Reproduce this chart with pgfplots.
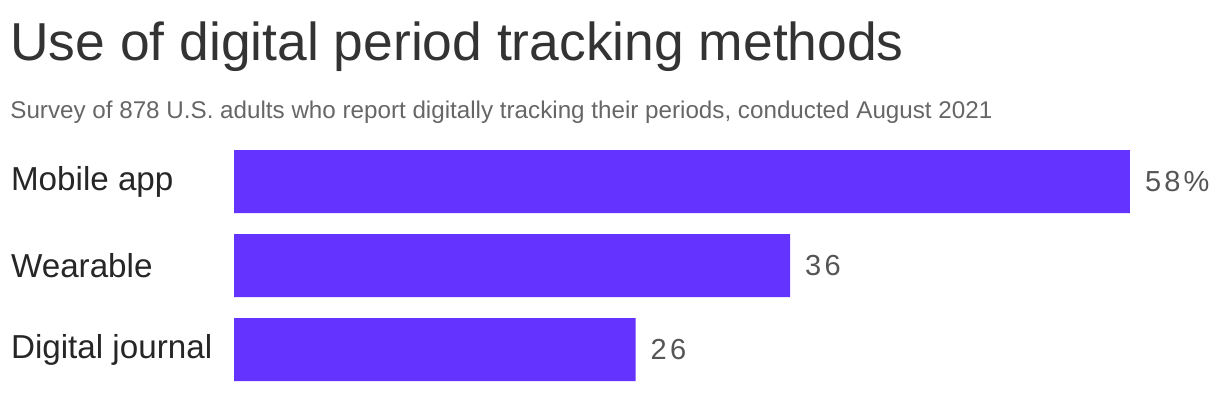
\documentclass[border=0pt]{standalone}
\usepackage{pgfplots}
\pgfplotsset{compat=1.18}
\usepackage{fontspec}
\setmainfont{Liberation Sans}
\definecolor{barpurple}{HTML}{6533FF}
\definecolor{titlegray}{HTML}{333333}
\definecolor{subgray}{HTML}{666666}
\definecolor{valgray}{HTML}{555555}
\begin{document}
\begin{tikzpicture}
\path[use as bounding box] (0,0) rectangle (610pt,196pt);
\node[anchor=base west, inner sep=0pt, text=titlegray, font=\fontsize{26.7}{30}\selectfont] at (5pt,166pt) {Use of digital period tracking methods};
\node[anchor=base west, inner sep=0pt, text=subgray, font=\fontsize{12.1}{14}\selectfont] at (5pt,137pt) {Survey of 878 U.S. adults who report digitally tracking their periods, conducted August 2021};
\begin{axis}[
  at={(117pt,0.25pt)}, anchor=south west,
  scale only axis, width=448pt, height=126pt,
  xmin=0, xmax=58, ymin=-0.5, ymax=2.5, y dir=reverse,
  axis line style={draw=none}, xtick=\empty,
  ytick={0,1,2}, yticklabels={Mobile app,Wearable,Digital journal},
  major tick length=0pt,
  yticklabel style={anchor=west, xshift=-115pt, text=black!85, font=\fontsize{16.6}{19}\selectfont},
  xbar, bar width=31.5pt, bar shift=0pt,
  point meta=explicit symbolic,
  nodes near coords,
  nodes near coords style={anchor=west, xshift=4pt, text=valgray, font=\fontsize{14.5}{16}\selectfont\addfontfeatures{LetterSpace=11}},
  clip=false,
]
\addplot[fill=barpurple, draw=none] coordinates {(58,0) [58\%] (36,1) [36] (26,2) [26]};
\end{axis}
\end{tikzpicture}
\end{document}
